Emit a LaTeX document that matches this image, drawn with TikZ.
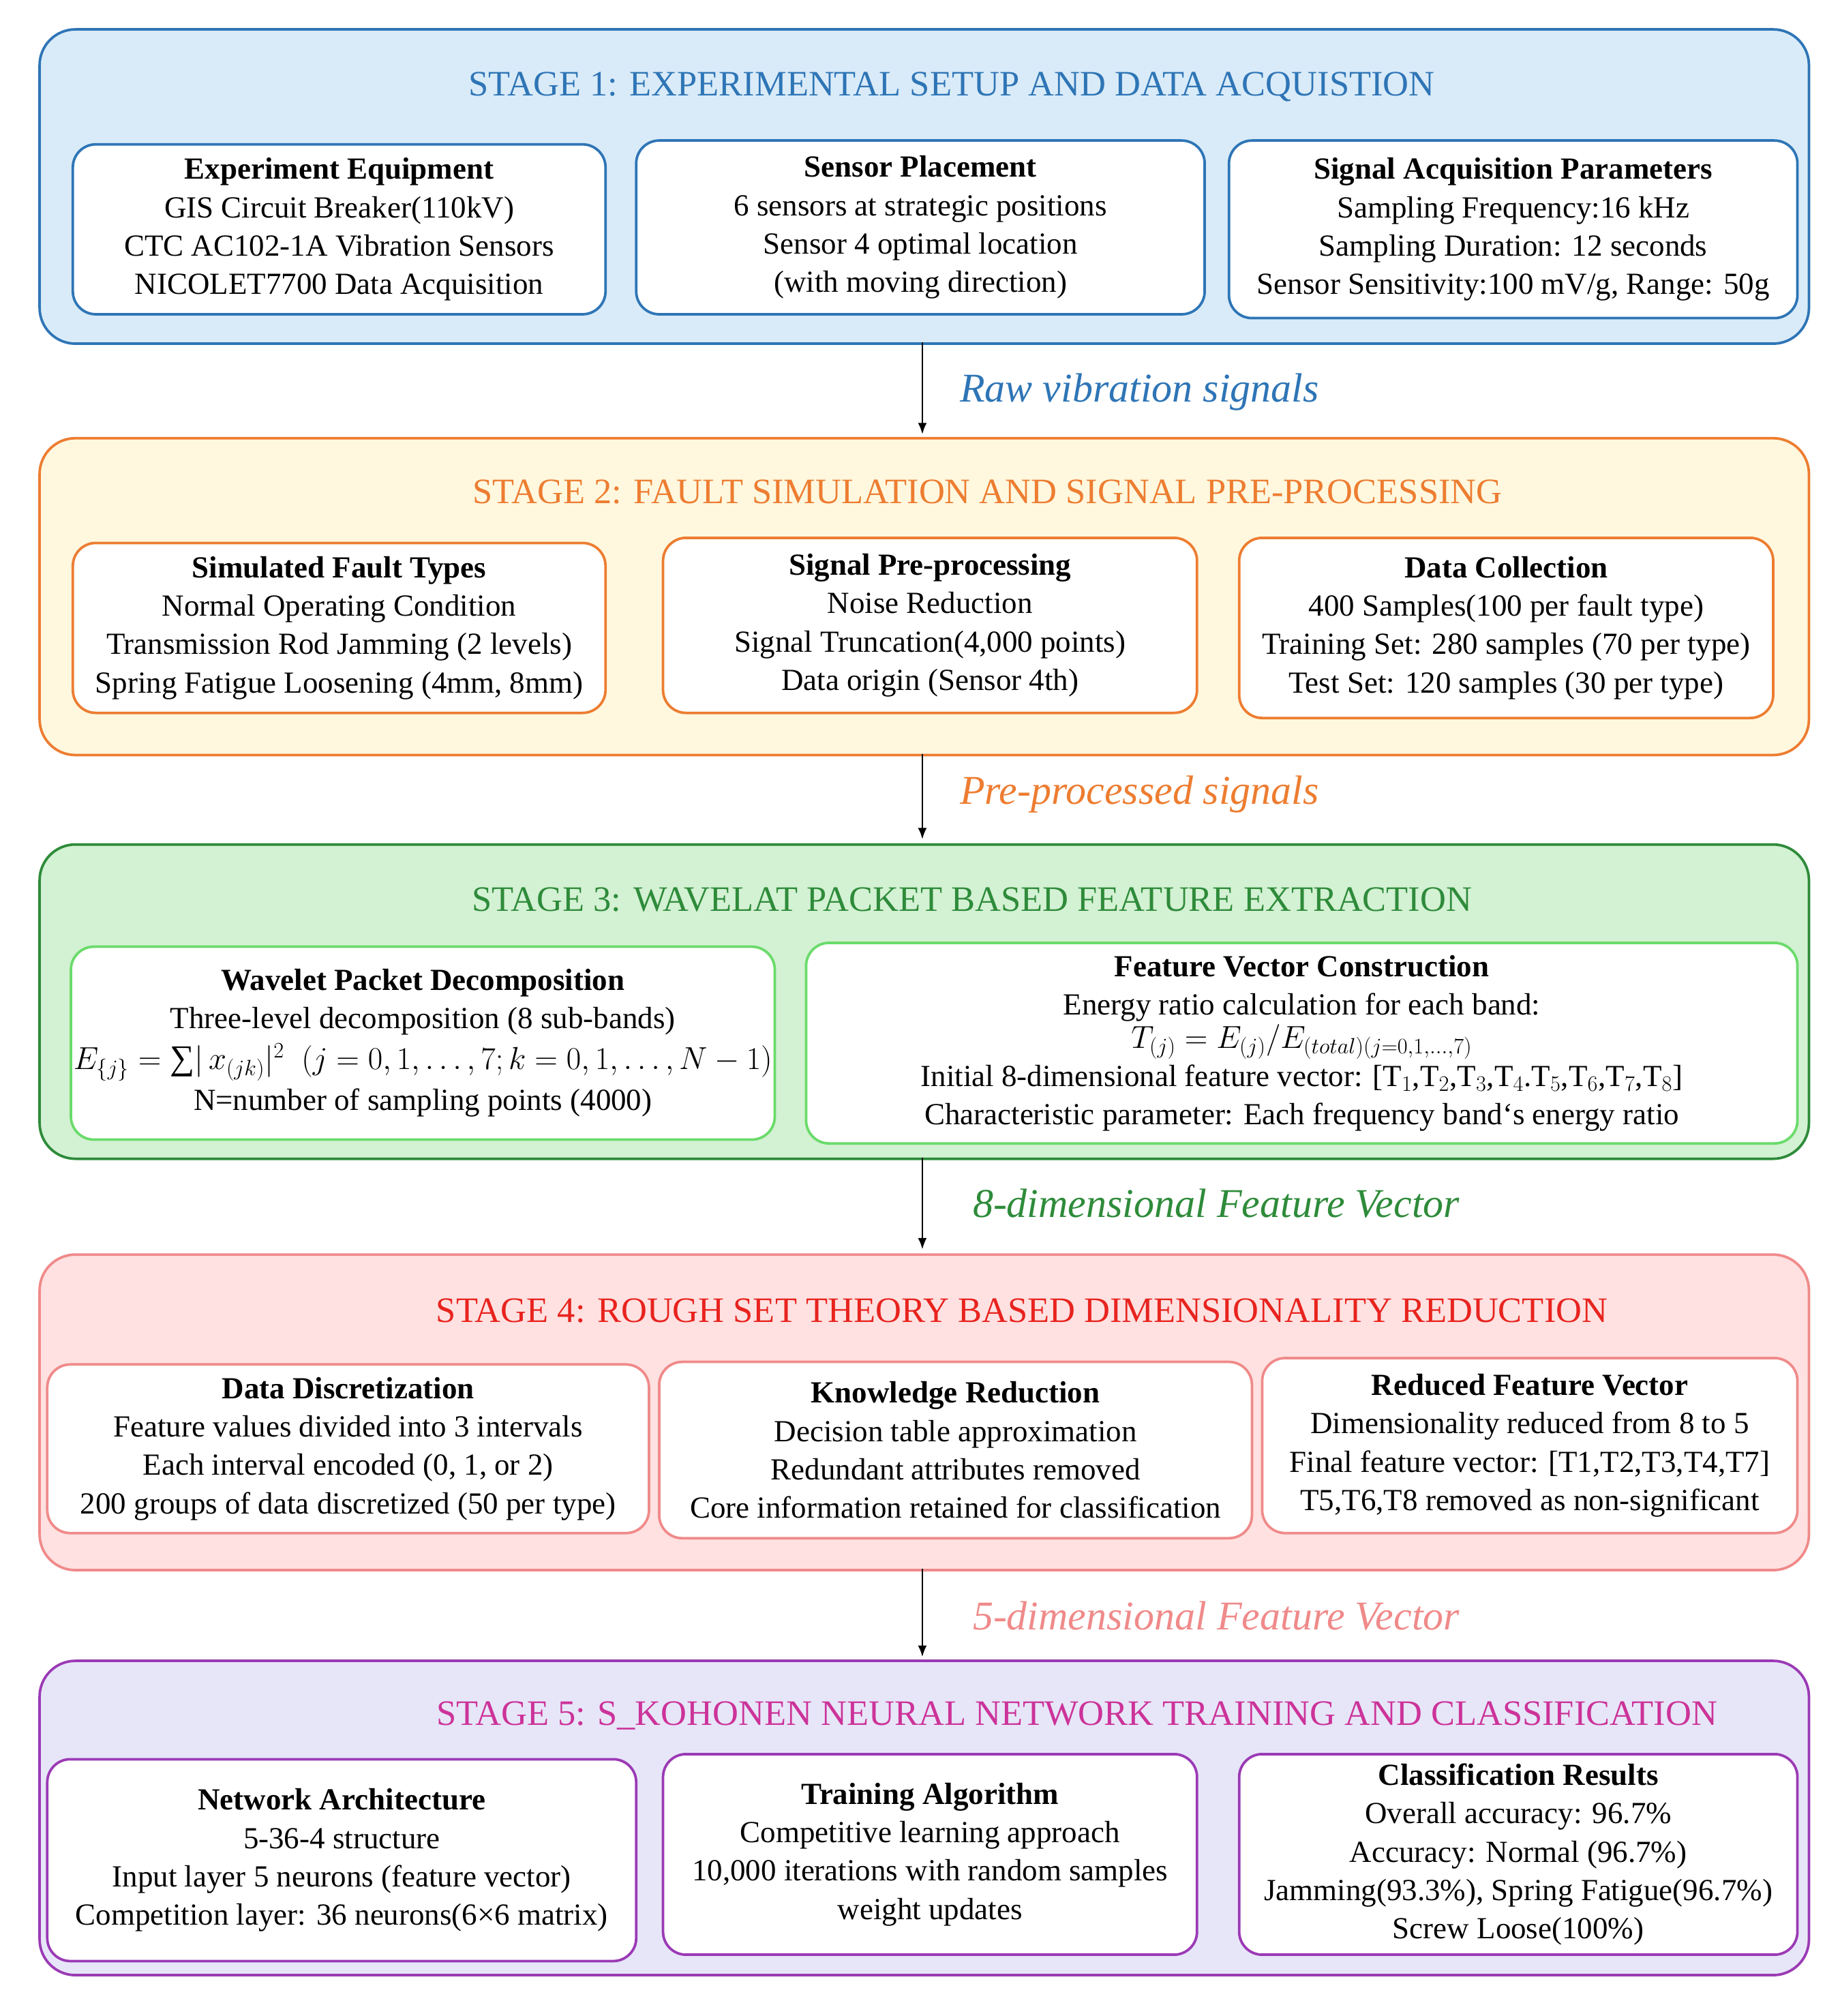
\documentclass[tikz,border=0pt]{standalone}
\usepackage{fontspec}
\setmainfont{Liberation Serif}
\usetikzlibrary{arrows.meta}
\definecolor{b1}{HTML}{2E75B6}\definecolor{f1}{HTML}{D9EBF8}
\definecolor{b2}{HTML}{ED7D31}\definecolor{f2}{HTML}{FFF8DF}
\definecolor{b3}{HTML}{2E8B3A}\definecolor{f3}{HTML}{D3F1D3}\definecolor{i3}{HTML}{6ADB6A}
\definecolor{b4}{HTML}{F08A8A}\definecolor{f4}{HTML}{FFE1E1}\definecolor{t4}{HTML}{E8231E}
\definecolor{b5}{HTML}{9B3AB5}\definecolor{f5}{HTML}{E7E6F9}\definecolor{t5}{HTML}{CC3399}
\tikzset{
 stage/.style={draw=#1,line width=2pt,rounded corners=28pt,anchor=north west},
 box/.style={draw=#1,line width=2pt,fill=white,rounded corners=18pt,align=center,inner sep=2pt,
   font=\fontsize{24}{30}\selectfont},
 ttl/.style={text=#1,font=\fontsize{28}{30}\selectfont},
 lab/.style={text=#1,font=\fontsize{32}{34}\selectfont\itshape},
 arr/.style={line width=1.5pt,-{Latex[length=9pt,width=7pt]}}
}
\newcommand{\bx}[8]{\node[box=#1,minimum width=#4-#2,minimum height=#5-#3] (#6) at ({(#2+#4)/2},{(#3+#5)/2}) {\textbf{#7}\\#8};}
\begin{document}
\begin{tikzpicture}[x=1pt,y=-1pt]
\useasboundingbox[fill=white] (0,0) rectangle (1440,1578);
% Stage 1
\node[stage=b1,fill=f1,minimum width=1385,minimum height=246] (s1) at (30,22) {};
\node[ttl=b1] (t1) at (745,68) {STAGE 1: EXPERIMENTAL SETUP AND DATA ACQUISTION};
\bx{b1}{57}{113}{474}{246}{a1}{Experiment Equipment}{GIS Circuit Breaker(110kV)\\CTC AC102-1A Vibration Sensors\\NICOLET7700 Data Acquisition}
\bx{b1}{498}{110}{943}{246}{a2}{Sensor Placement}{6 sensors at strategic positions\\Sensor 4 optimal location\\(with moving direction)}
\bx{b1}{962}{110}{1407}{249}{a3}{Signal Acquisition Parameters}{Sampling Frequency:16 kHz\\Sampling Duration: 12 seconds\\Sensor Sensitivity:100 mV/g, Range: 50g}
% Stage 2
\node[stage=b2,fill=f2,minimum width=1385,minimum height=248] (s2) at (30,342) {};
\node[ttl=b2] (t2) at (773,385) {STAGE 2: FAULT SIMULATION AND SIGNAL PRE-PROCESSING};
\bx{b2}{57}{425}{474}{558}{c1}{Simulated Fault Types}{Normal Operating Condition\\Transmission Rod Jamming (2 levels)\\Spring Fatigue Loosening (4mm, 8mm)}
\bx{b2}{519}{421}{937}{558}{c2}{Signal Pre-processing}{Noise Reduction\\Signal Truncation(4,000 points)\\Data origin (Sensor 4th)}
\bx{b2}{970}{421}{1388}{562}{c3}{Data Collection}{400 Samples(100 per fault type)\\Training Set: 280 samples (70 per type)\\Test Set: 120 samples (30 per type)}
% Stage 3
\node[stage=b3,fill=f3,minimum width=1385,minimum height=246] (s3) at (30,660) {};
\node[ttl=b3] (t3) at (761,704) {STAGE 3: WAVELAT PACKET BASED FEATURE EXTRACTION};
\bx{i3}{60}{741}{602}{892}{d1}{Wavelet Packet Decomposition}{Three-level decomposition (8 sub-bands)\\[2pt]{\fontsize{27}{30}\selectfont$E_{\{j\}}=\mbox{∑}|\,x_{(jk)}|^2\ \ (j=0,1,\ldots,7;k=0,1,\ldots,N-1)$}\\[2pt]N=number of sampling points (4000)}
\bx{i3}{631}{738}{1407}{895}{d2}{Feature Vector Construction}{Energy ratio calculation for each band:\\[-4pt]{\fontsize{26}{30}\selectfont$T_{(j)}=E_{(j)}/E_{(total)(j=0,1,\ldots,7)}$}\\[0pt]Initial 8-dimensional feature vector: [T$_1$,T$_2$,T$_3$,T$_4$.T$_5$,T$_6$,T$_7$,T$_8$]\\Characteristic parameter: Each frequency band‘s energy ratio}
% Stage 4
\node[stage=b4,fill=f4,minimum width=1385,minimum height=247] (s4) at (30,981) {};
\node[ttl=t4] (t4) at (800,1026) {STAGE 4: ROUGH SET THEORY BASED DIMENSIONALITY REDUCTION};
\bx{b4}{37}{1068}{508}{1200}{e1}{Data Discretization}{Feature values divided into 3 intervals\\Each interval encoded (0, 1, or 2)\\200 groups of data discretized (50 per type)}
\bx{b4}{516}{1066}{980}{1204}{e2}{Knowledge Reduction}{Decision table approximation\\Redundant attributes removed\\Core information retained for classification}
\bx{b4}{988}{1063}{1407}{1200}{e3}{Reduced Feature Vector}{Dimensionality reduced from 8 to 5\\Final feature vector: [T1,T2,T3,T4,T7]\\T5,T6,T8 removed as non-significant}
% Stage 5
\node[stage=b5,fill=f5,minimum width=1385,minimum height=246] (s5) at (30,1299) {};
\node[ttl=t5] (t5) at (843,1343) {STAGE 5: S\_KOHONEN NEURAL NETWORK TRAINING AND CLASSIFICATION};
\bx{b5}{37}{1377}{498}{1535}{g1}{Network Architecture}{5-36-4 structure\\Input layer 5 neurons (feature vector)\\Competition layer: 36 neurons(6×6 matrix)}
\bx{b5}{519}{1373}{937}{1530}{g2}{Training Algorithm}{Competitive learning approach\\10,000 iterations with random samples\\weight updates}
\node[box=b5,minimum width=437,minimum height=157] (g3) at (1188.5,1451.5) {\textbf{Classification Results}\\Overall accuracy: 96.7\%\\Accuracy: Normal (96.7\%)\\Jamming(93.3\%), Spring Fatigue(96.7\%)\\Screw Loose(100\%)};
% arrows
\draw[arr] (722,268) -- (722,340);
\node[lab=b1] (l1) at (892,307) {Raw vibration signals};
\draw[arr] (722,590) -- (722,657);
\node[lab=b2] (l2) at (892,622) {Pre-processed signals};
\draw[arr] (722,906) -- (722,978);
\node[lab=b3] (l3) at (952,942) {8-dimensional Feature Vector};
\draw[arr] (722,1228) -- (722,1297);
\node[lab=b4] (l4) at (952,1265) {5-dimensional Feature Vector};
\end{tikzpicture}
\end{document}
